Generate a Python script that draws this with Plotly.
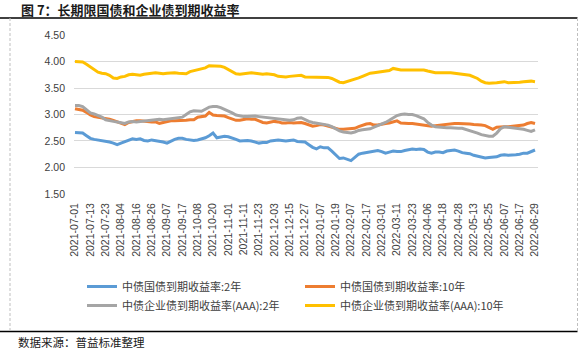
import pandas as pd
import plotly.graph_objects as go

# ---------------- data ----------------
start_date = "2021-07-01"
end_date = "2022-06-29"
market_holidays = [
    "2021-09-20", "2021-09-21", "2021-10-01", "2021-10-04", "2021-10-05",
    "2021-10-06", "2021-10-07", "2022-01-03", "2022-01-31", "2022-02-01",
    "2022-02-02", "2022-02-03", "2022-02-04", "2022-04-04", "2022-04-05",
    "2022-05-02", "2022-05-03", "2022-05-04", "2022-06-03",
]
trading_days = [d.strftime("%Y-%m-%d") for d in pd.bdate_range(start_date, end_date)
                if d.strftime("%Y-%m-%d") not in market_holidays]
dates = trading_days[::2]          # one reading every second trading day
tick_labels = dates[::4]           # labels every 8 trading days

series_names = [
    "中债国债到期收益率:2年",
    "中债国债到期收益率:10年",
    "中债企业债到期收益率(AAA):2年",
    "中债企业债到期收益率(AAA):10年",
]

gov_2y = [
    2.66, 2.66, 2.65, 2.60, 2.55, 2.53, 2.52, 2.50, 2.49, 2.48,
    2.46, 2.43, 2.46, 2.49, 2.52, 2.54, 2.53, 2.54, 2.51, 2.50,
    2.52, 2.51, 2.50, 2.48, 2.46, 2.50, 2.53, 2.55, 2.55, 2.53,
    2.52, 2.51, 2.52, 2.54, 2.56, 2.60, 2.65, 2.56, 2.58, 2.59,
    2.58, 2.56, 2.53, 2.50, 2.51, 2.51, 2.50, 2.48, 2.46, 2.47,
    2.47, 2.50, 2.51, 2.52, 2.51, 2.50, 2.51, 2.52, 2.49, 2.49,
    2.48, 2.43, 2.38, 2.35, 2.39, 2.37, 2.37, 2.31, 2.24, 2.17,
    2.18, 2.15, 2.13, 2.19, 2.25, 2.27, 2.28, 2.29, 2.30, 2.32,
    2.30, 2.27, 2.29, 2.31, 2.30, 2.30, 2.32, 2.34, 2.35, 2.34,
    2.35, 2.34, 2.29, 2.27, 2.29, 2.29, 2.28, 2.31, 2.32, 2.33,
    2.31, 2.28, 2.27, 2.26, 2.23, 2.21, 2.19, 2.18, 2.19, 2.20,
    2.20, 2.23, 2.24, 2.23, 2.23, 2.24, 2.25, 2.27, 2.27, 2.30,
    2.33,
]
gov_10y = [
    3.11, 3.10, 3.08, 3.04, 2.99, 2.96, 2.95, 2.94, 2.92, 2.91,
    2.89, 2.86, 2.84, 2.81, 2.85, 2.87, 2.88, 2.88, 2.87, 2.87,
    2.86, 2.86, 2.83, 2.85, 2.87, 2.88, 2.88, 2.88, 2.89, 2.89,
    2.90, 2.90, 2.95, 2.96, 2.97, 3.04, 2.99, 2.98, 2.98, 2.97,
    2.94, 2.91, 2.89, 2.89, 2.91, 2.92, 2.91, 2.91, 2.88, 2.85,
    2.84, 2.85, 2.87, 2.86, 2.84, 2.84, 2.85, 2.84, 2.85, 2.85,
    2.83, 2.80, 2.78, 2.79, 2.81, 2.80, 2.78, 2.77, 2.74, 2.72,
    2.72, 2.73, 2.73, 2.74, 2.77, 2.80, 2.82, 2.83, 2.80, 2.80,
    2.82, 2.83, 2.84, 2.86, 2.88, 2.84, 2.83, 2.83, 2.83, 2.82,
    2.80, 2.79, 2.79, 2.78, 2.79, 2.80, 2.81, 2.82, 2.82, 2.83,
    2.83, 2.83, 2.82, 2.82, 2.81, 2.81, 2.80, 2.79, 2.75, 2.72,
    2.76, 2.77, 2.77, 2.77, 2.78, 2.78, 2.79, 2.80, 2.83, 2.85,
    2.83,
]
corp_2y = [
    3.17, 3.17, 3.15, 3.08, 3.03, 3.01, 2.98, 2.95, 2.90, 2.88,
    2.87, 2.86, 2.85, 2.83, 2.86, 2.87, 2.86, 2.87, 2.88, 2.89,
    2.90, 2.90, 2.91, 2.90, 2.91, 2.91, 2.92, 2.93, 2.95, 3.00,
    3.05, 3.07, 3.07, 3.06, 3.10, 3.14, 3.15, 3.15, 3.13, 3.10,
    3.06, 3.03, 2.99, 2.97, 2.96, 2.96, 2.97, 2.97, 2.96, 2.95,
    2.95, 2.93, 2.92, 2.91, 2.90, 2.90, 2.89, 2.90, 2.93, 2.94,
    2.90, 2.87, 2.85, 2.84, 2.83, 2.81, 2.80, 2.77, 2.73, 2.69,
    2.67, 2.66, 2.65, 2.67, 2.70, 2.71, 2.72, 2.73, 2.76, 2.79,
    2.81, 2.85, 2.89, 2.94, 2.98, 3.00, 3.01, 3.00, 3.00, 2.98,
    2.95, 2.92, 2.85, 2.80, 2.77, 2.76, 2.76, 2.75, 2.75, 2.74,
    2.74, 2.74, 2.72, 2.70, 2.67, 2.65, 2.62, 2.60, 2.59, 2.59,
    2.65, 2.73, 2.77, 2.76, 2.75, 2.75, 2.74, 2.72, 2.70, 2.68,
    2.71,
]
corp_10y = [
    4.00, 3.99, 3.99, 3.95, 3.90, 3.86, 3.80, 3.78, 3.77, 3.74,
    3.69, 3.68, 3.71, 3.72, 3.75, 3.76, 3.75, 3.74, 3.76, 3.77,
    3.78, 3.79, 3.78, 3.77, 3.78, 3.79, 3.79, 3.78, 3.77, 3.77,
    3.81, 3.83, 3.84, 3.86, 3.88, 3.92, 3.92, 3.91, 3.91, 3.89,
    3.85, 3.81, 3.77, 3.76, 3.77, 3.78, 3.79, 3.78, 3.77, 3.76,
    3.77, 3.76, 3.75, 3.72, 3.71, 3.71, 3.72, 3.73, 3.74, 3.74,
    3.71, 3.71, 3.70, 3.71, 3.71, 3.70, 3.70, 3.68, 3.64, 3.61,
    3.60, 3.62, 3.64, 3.66, 3.69, 3.72, 3.75, 3.78, 3.79, 3.80,
    3.81, 3.81, 3.83, 3.87, 3.85, 3.84, 3.84, 3.84, 3.83, 3.83,
    3.83, 3.84, 3.82, 3.80, 3.79, 3.79, 3.79, 3.80, 3.79, 3.78,
    3.77, 3.76, 3.75, 3.74, 3.71, 3.68, 3.63, 3.60, 3.59, 3.59,
    3.60, 3.61, 3.62, 3.60, 3.60, 3.61, 3.61, 3.62, 3.63, 3.63,
    3.62,
]
colors = ["#5B9BD5", "#ED7D31", "#A5A5A5", "#FFC000"]
y_ticks = [1.5, 2.0, 2.5, 3.0, 3.5, 4.0, 4.5]

title_text = "图 7：长期限国债和企业债到期收益率"
source_text = "数据来源：普益标准整理"

# ---------------- layout helpers (pixel -> paper) ----------------
W, H = 586, 349
L, R, T, B = 74, 538, 35, 194


def px_x(x):
    return (x - L) / (R - L)


def px_y(y):
    return (B - y) / (B - T)


fig = go.Figure()
for name, vals, col in zip(series_names, [gov_2y, gov_10y, corp_2y, corp_10y], colors):
    fig.add_trace(go.Scatter(x=dates, y=vals, mode="lines", name=name,
                             line=dict(color=col, width=3)))

tick_font = dict(family="Liberation Sans, Arial", size=10.5, color="#404040")
cjk = "Noto Sans CJK SC"

fig.update_layout(
    width=W, height=H,
    margin=dict(l=L, r=W - R, t=T, b=H - B, pad=0),
    paper_bgcolor="white", plot_bgcolor="white",
    showlegend=True,
    legend=dict(orientation="h", x=px_x(82), y=px_y(272), xanchor="left", yanchor="top",
                entrywidth=173, entrywidthmode="pixels",
                font=dict(family=cjk, size=11, color="#404040"),
                bgcolor="rgba(0,0,0,0)", tracegroupgap=0),
    xaxis=dict(type="category", range=[-0.26, len(dates) - 1 + 0.78],
               tickmode="array", tickvals=tick_labels, ticktext=tick_labels,
               tickangle=-90, tickfont=tick_font, showgrid=False, showline=False,
               zeroline=False, ticks="", ticklabelstandoff=6),
    yaxis=dict(range=[1.499, 4.501], tickmode="array", tickvals=y_ticks,
               tickformat=".2f", tickfont=tick_font, showgrid=True,
               gridcolor="#D9D9D9", gridwidth=1, zeroline=False, showline=False,
               ticks="", ticklabelstandoff=8),
)

shapes = [
    dict(type="line", xref="paper", yref="paper", x0=px_x(0), x1=px_x(577.5),
         y0=px_y(18), y1=px_y(18), line=dict(color="black", width=1.5)),
    dict(type="line", xref="paper", yref="paper", x0=px_x(0), x1=px_x(577.5),
         y0=px_y(331.5), y1=px_y(331.5), line=dict(color="black", width=1.5)),
    dict(type="line", xref="paper", yref="paper", x0=px_x(10), x1=px_x(10),
         y0=px_y(18), y1=px_y(331), line=dict(color="#BFBFBF", width=1, dash="3px,2px")),
    dict(type="line", xref="paper", yref="paper", x0=px_x(577.5), x1=px_x(577.5),
         y0=px_y(18), y1=px_y(331), line=dict(color="#BFBFBF", width=1, dash="3px,2px")),
]
fig.update_layout(shapes=shapes)

fig.add_annotation(text="<b>" + title_text + "</b>", xref="paper", yref="paper",
                   x=px_x(19), y=px_y(9), xanchor="left", yanchor="middle",
                   showarrow=False, font=dict(family=cjk, size=13, color="#1a1a1a"))
fig.add_annotation(text=source_text, xref="paper", yref="paper",
                   x=px_x(16), y=px_y(341.5), xanchor="left", yanchor="middle",
                   showarrow=False, font=dict(family=cjk, size=11.5, color="#1a1a1a"))

fig.write_html("out.html")
